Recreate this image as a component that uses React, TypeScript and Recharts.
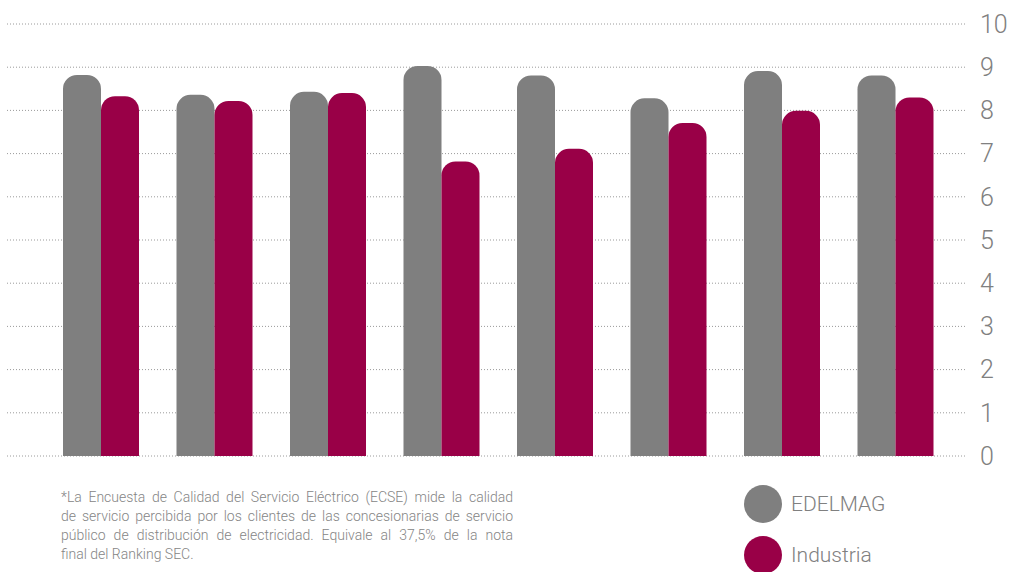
import React from 'react';
import { BarChart, Bar, XAxis, YAxis, CartesianGrid } from 'recharts';

const categories = ['A1', 'A2', 'A3', 'A4', 'A5', 'A6', 'A7', 'A8'];
const edelmag = [8.82, 8.36, 8.43, 9.03, 8.81, 8.28, 8.91, 8.81];
const industria = [8.33, 8.22, 8.4, 6.82, 7.11, 7.71, 7.99, 8.3];
const seriesNames = ['EDELMAG', 'Industria'];
const seriesColors = ['#7f7f7f', '#990047'];
const yTicks = [0, 1, 2, 3, 4, 5, 6, 7, 8, 9, 10];
const footnoteLines = [
  '*La Encuesta de Calidad del Servicio Eléctrico (ECSE) mide la calidad',
  'de servicio percibida por los clientes de las concesionarias de servicio',
  'público de distribución de electricidad. Equivale al 37,5% de la nota',
  'final del Ranking SEC.',
];

const data = categories.map((name, i) => ({
  name,
  edelmag: edelmag[i],
  industria: industria[i],
}));

const font = 'Roboto, "Liberation Sans", Arial, sans-serif';

export default function App() {
  return (
    <div style={{ position: 'absolute', left: 0, top: 0, width: 1013, height: 572, overflow: 'hidden', background: '#fff', fontFamily: font }}>
      <BarChart
        width={1013}
        height={470}
        data={data}
        margin={{ top: 24, right: 0, left: 7, bottom: 14 }}
        barGap={0}
        barSize={38}
      >
        <CartesianGrid vertical={false} stroke="#9a9a9a" strokeDasharray="1 2" />
        <XAxis dataKey="name" hide padding={{ left: 37, right: 15 }} />
        <YAxis
          orientation="right"
          width={46}
          domain={[0, 10]}
          ticks={yTicks}
          interval={0}
          axisLine={false}
          tickLine={false}
          tickMargin={7}
          tick={{ fontSize: 25, fill: '#808080', fontFamily: font, fontWeight: 300 }}
        />
        <Bar dataKey="edelmag" name={seriesNames[0]} fill={seriesColors[0]} radius={[14, 14, 0, 0]} isAnimationActive={false} />
        <Bar dataKey="industria" name={seriesNames[1]} fill={seriesColors[1]} radius={[14, 14, 0, 0]} isAnimationActive={false} />
      </BarChart>

      <div
        style={{
          position: 'absolute',
          left: 61,
          top: 488,
          width: 452,
          fontSize: 14,
          lineHeight: '19px',
          color: '#858585',
          fontWeight: 300,
        }}
      >
        {footnoteLines.map((line, i) => (
          <div
            key={i}
            style={{
              textAlign: 'justify',
              textAlignLast: i < footnoteLines.length - 1 ? 'justify' : 'left',
              whiteSpace: 'nowrap',
            }}
          >
            {line}
          </div>
        ))}
      </div>

      {seriesNames.map((s, i) => (
        <div
          key={s}
          style={{ position: 'absolute', left: 744, top: 485 + i * 51, height: 38, display: 'flex', alignItems: 'center' }}
        >
          <div style={{ width: 38, height: 38, borderRadius: '50%', background: seriesColors[i] }} />
          <span style={{ marginLeft: 9, fontSize: 21, color: '#808080', fontWeight: 300 }}>{s}</span>
        </div>
      ))}
    </div>
  );
}
